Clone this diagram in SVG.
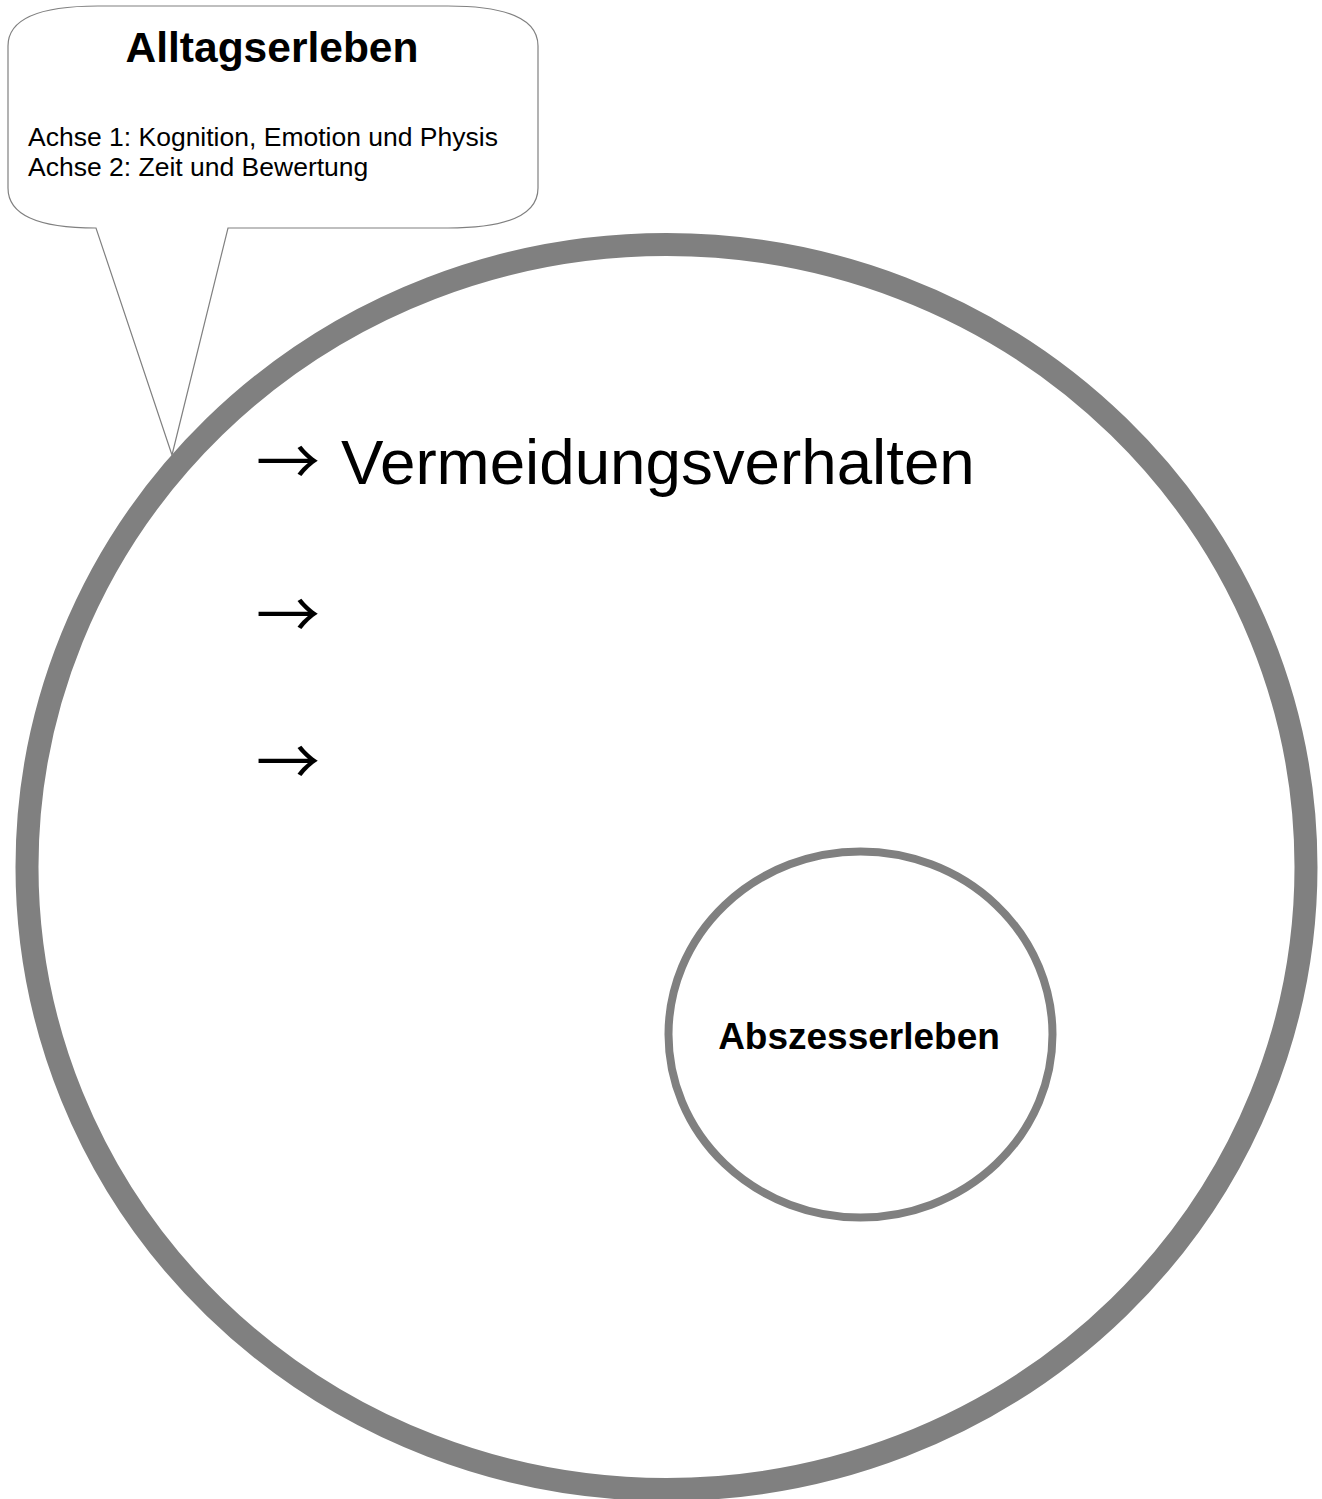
<svg xmlns="http://www.w3.org/2000/svg" width="1322" height="1499" viewBox="0 0 1322 1499">
<style>
.ring{fill:none;stroke:#808080}
.thin{fill:#fff;stroke:#808080;stroke-width:1.2}
.t{font-family:"Liberation Sans",Arial,sans-serif;fill:#000}
.ar{font-family:"Noto Sans CJK JP","Liberation Sans",sans-serif;fill:#000;font-size:64px}
.b{font-weight:bold}
</style>
<rect width="1322" height="1499" fill="#fff"/>
<g id="alltag">
<ellipse class="ring" cx="666.5" cy="867" rx="639.5" ry="622.5" stroke-width="23"/>
</g>
<g id="callout">
<path class="thin" d="M98,6 L448,6 Q538,6 538,46 L538,188 Q538,228 448,228 L228,228 L172,455 L96,228 Q8,228 8,188 L8,46 Q8,6 98,6 Z"/>
<text class="t b" x="272" y="62" font-size="42.5" text-anchor="middle">Alltagserleben</text>
<text class="t" x="28" y="146" font-size="26.5">Achse 1: Kognition, Emotion und Physis</text>
<text class="t" x="28" y="176" font-size="26.5">Achse 2: Zeit und Bewertung</text>
</g>
<g id="list">
<text class="ar" x="256" y="485">→</text>
<text class="t" x="341" y="484" font-size="63.7">Vermeidungsverhalten</text>
<text class="ar" x="256" y="638">→</text>
<text class="ar" x="256" y="785">→</text>
</g>
<g id="abszess">
<ellipse class="ring" cx="860.5" cy="1034.5" rx="192" ry="183" stroke-width="8"/>
<text class="t b" x="859" y="1049" font-size="37" text-anchor="middle">Abszesserleben</text>
</g>
<g id="connectors"></g>
</svg>
